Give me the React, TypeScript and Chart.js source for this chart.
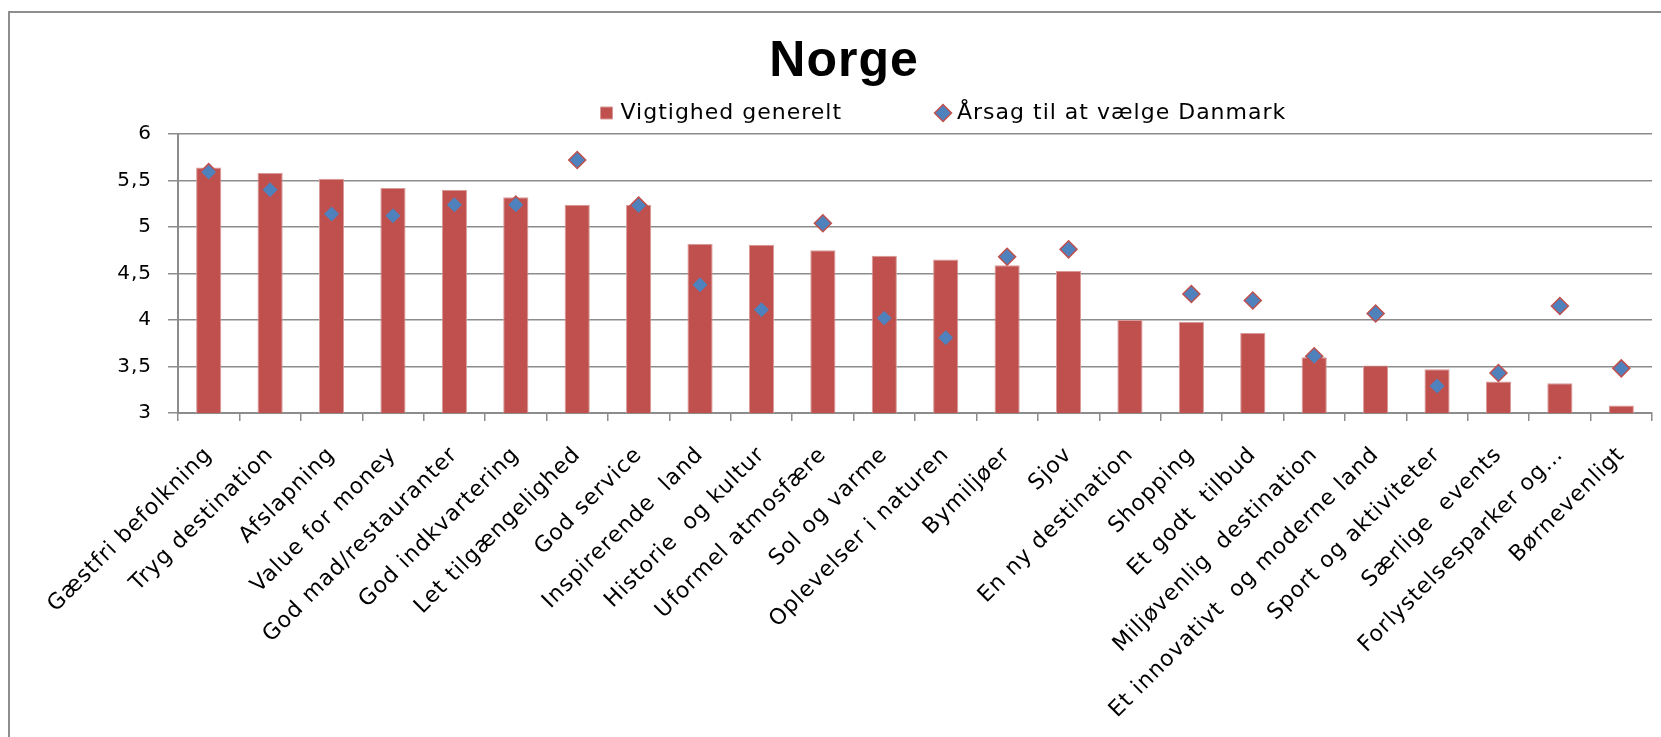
import React, { useEffect, useRef } from 'react';
import { Chart, registerables } from 'chart.js';

Chart.register(...registerables);

const titleText = 'Norge';
const seriesNames = ['Vigtighed generelt', 'Årsag til at vælge Danmark'];

const categories = [
  'Gæstfri befolkning',
  'Tryg destination',
  'Afslapning',
  'Value for money',
  'God mad/restauranter',
  'God indkvartering',
  'Let tilgængelighed',
  'God service',
  'Inspirerende  land',
  'Historie  og kultur',
  'Uformel atmosfære',
  'Sol og varme',
  'Oplevelser i naturen',
  'Bymiljøer',
  'Sjov',
  'En ny destination',
  'Shopping',
  'Et godt  tilbud',
  'Miljøvenlig  destination',
  'Et innovativt  og moderne land',
  'Sport og aktiviteter',
  'Særlige  events',
  'Forlystelsesparker og…',
  'Børnevenligt',
];

const vigtighed = [
  5.64, 5.58, 5.52, 5.42, 5.40, 5.32, 5.24, 5.24, 4.82, 4.81, 4.75, 4.69,
  4.65, 4.59, 4.53, 4.00, 3.98, 3.86, 3.60, 3.51, 3.47, 3.34, 3.32, 3.08,
];

const aarsag = [
  5.59, 5.40, 5.14, 5.12, 5.24, 5.24, 5.72, 5.23, 4.38, 4.11, 5.04, 4.02,
  3.81, 4.68, 4.76, null, 4.28, 4.21, 3.61, 4.07, 3.29, 3.43, 4.15, 3.48,
];

const yMin = 3;
const yMax = 6;
const yStep = 0.5;

const GRID = '#8c8c8c';
const FONT = '"DejaVu Sans", Verdana, sans-serif';

export default function App() {
  const ref = useRef<HTMLCanvasElement>(null);

  useEffect(() => {
    const canvas = ref.current;
    if (!canvas) return;
    const W = 1668;
    const H = 724;
    const padLeft = 26;
    const areaLeft = 168;
    const areaRight = 1642;
    const areaBottom = 400;

    const spacing = {
      id: 'spacing',
      beforeUpdate(chart: any) {
        chart.ctx.letterSpacing = '1px';
      },
      beforeDraw(chart: any) {
        chart.ctx.letterSpacing = '1px';
      },
    };

    const legendShift = {
      id: 'legendShift',
      afterLayout(chart: any) {
        const l = chart.legend;
        if (!l) return;
        const dx = 583.5 - l.left;
        l.left += dx;
        l.right += dx;
      },
    };

    const chart = new Chart(canvas, {
      type: 'bar',
      data: {
        labels: categories,
        datasets: [
          {
            type: 'bar',
            label: seriesNames[0],
            data: vigtighed,
            backgroundColor: '#C0504D',
            borderColor: '#D89A98',
            borderWidth: 1,
            barPercentage: 0.41,
            categoryPercentage: 1,
            pointStyle: 'rect',
            order: 2,
          } as any,
          {
            type: 'line',
            label: seriesNames[1],
            data: aarsag,
            showLine: false,
            pointStyle: 'rectRot',
            pointRadius: 8.5,
            pointBackgroundColor: '#4F81BD',
            pointBorderColor: '#C0504D',
            pointBorderWidth: 1.5,
            backgroundColor: '#4F81BD',
            borderColor: '#C0504D',
            borderWidth: 1.5,
            order: 1,
          } as any,
        ],
      },
      options: {
        responsive: false,
        maintainAspectRatio: false,
        animation: false,
        layout: { padding: { left: padLeft, right: W - areaRight, top: 0, bottom: 0 } },
        plugins: {
          tooltip: { enabled: false },
          title: {
            display: true,
            text: titleText,
            color: '#000',
            font: { family: '"Liberation Sans", Arial, sans-serif', size: 50, weight: 'bold' },
            padding: { top: 19, bottom: 0 },
          },
          legend: {
            display: true,
            position: 'top',
            align: 'start',
            labels: {
              usePointStyle: true,
              boxWidth: 6,
              boxHeight: 12,
              padding: 10,
              color: '#000',
              font: { family: FONT, size: 22 },
              sort: (a: any, b: any) => a.datasetIndex - b.datasetIndex,
              generateLabels: (c: any) => {
                const items = (Chart.defaults.plugins.legend.labels as any).generateLabels(c);
                const ctx = c.ctx;
                ctx.save();
                ctx.font = '22px ' + FONT;
                items.forEach((it: any) => {
                  if (it.datasetIndex === 0) {
                    const w = ctx.measureText(it.text).width;
                    const sw = ctx.measureText(' ').width;
                    const n = Math.max(0, Math.round((307.5 - w) / sw));
                    it.text = it.text + ' '.repeat(n);
                  }
                });
                ctx.restore();
                return items;
              },
            },
          },
        },
        scales: {
          x: {
            offset: true,
            grid: {
              display: true,
              drawOnChartArea: false,
              drawTicks: true,
              tickLength: 8,
              color: GRID,
              lineWidth: 1.5,
              offset: true,
            },
            border: { display: true, color: GRID, width: 2 },
            ticks: {
              autoSkip: false,
              maxRotation: 45,
              minRotation: 45,
              padding: 21,
              color: '#000',
              font: { family: FONT, size: 22 },
            },
            afterFit: (scale: any) => {
              scale.height = H - areaBottom;
            },
          },
          y: {
            min: yMin,
            max: yMax,
            grid: {
              color: GRID,
              lineWidth: 1.5,
              tickLength: 10,
            },
            border: { display: true, color: GRID, width: 2 },
            ticks: {
              stepSize: yStep,
              padding: 16,
              color: '#000',
              font: { family: FONT, size: 20 },
              callback: (v: any) => String(v).replace('.', ','),
            },
            afterFit: (scale: any) => {
              scale.width = areaLeft - padLeft;
            },
          },
        },
      },
      plugins: [spacing, legendShift],
    });

    return () => chart.destroy();
  }, []);

  return (
    <div
      style={{
        position: 'fixed',
        left: 0,
        top: 0,
        width: 1661,
        height: 737,
        overflow: 'hidden',
        background: '#fff',
      }}
    >
      <div
        style={{
          position: 'absolute',
          left: 8,
          top: 11,
          width: 1700,
          height: 760,
          borderLeft: '2px solid #8e8e8e',
          borderTop: '2px solid #8e8e8e',
        }}
      >
        <canvas ref={ref} width={1668} height={724} style={{ display: 'block' }} />
      </div>
    </div>
  );
}
